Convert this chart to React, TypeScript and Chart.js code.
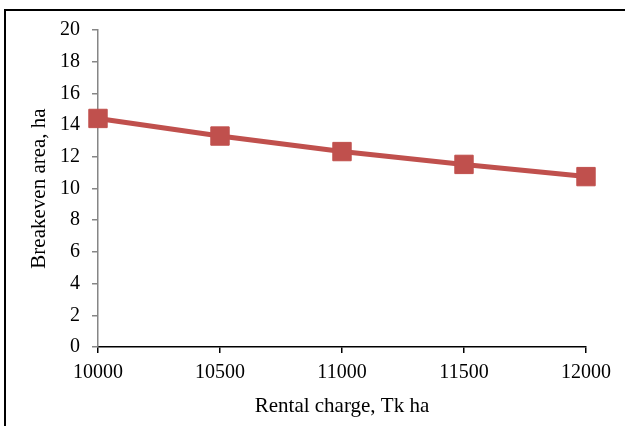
import React, { useEffect, useRef } from "react";
import { Chart, registerables } from "chart.js";

Chart.register(...registerables);

const rentalCharges: number[] = [10000, 10500, 11000, 11500, 12000];
const breakevenArea: number[] = [14.42, 13.31, 12.33, 11.52, 10.75];
const xTitle = "Rental charge, Tk ha";
const yTitle = "Breakeven area, ha";

const FONT = "'Liberation Serif', 'Times New Roman', serif";

export default function App() {
  const canvasRef = useRef<HTMLCanvasElement | null>(null);

  useEffect(() => {
    if (!canvasRef.current) return;
    const chart = new Chart(canvasRef.current, {
      type: "line",
      data: {
        datasets: [
          {
            data: rentalCharges.map((x, i) => ({ x, y: breakevenArea[i] })),
            borderColor: "#C0504D",
            backgroundColor: "#C0504D",
            borderWidth: 5,
            pointStyle: "rect",
            pointRadius: 13,
            pointBackgroundColor: "#C0504D",
            pointBorderColor: "#C0504D",
            pointBorderWidth: 1,
            tension: 0,
            clip: false as any,
          },
        ],
      },
      options: {
        animation: false,
        responsive: false,
        maintainAspectRatio: false,
        layout: { padding: { left: 23, right: 39, top: 30, bottom: 3 } },
        plugins: { legend: { display: false }, tooltip: { enabled: false } },
        scales: {
          x: {
            type: "linear",
            min: 10000,
            max: 12000,
            ticks: {
              stepSize: 500,
              callback: (v: any) => String(v),
              font: { family: FONT, size: 20 },
              color: "#000",
              padding: 8,
            },
            grid: {
              display: true,
              drawOnChartArea: false,
              drawTicks: true,
              tickLength: 6,
              color: "#000",
              lineWidth: 1.5,
            },
            border: { display: true, color: "#000", width: 1.5 },
            title: {
              display: true,
              text: xTitle,
              font: { family: FONT, size: 21 },
              color: "#000",
            },
            afterFit: (s: any) => {
              s.height = 76;
            },
          },
          y: {
            type: "linear",
            min: 0,
            max: 20,
            ticks: {
              stepSize: 2,
              font: { family: FONT, size: 20 },
              color: "#000",
              padding: 12,
            },
            grid: {
              display: true,
              drawOnChartArea: false,
              drawTicks: true,
              tickLength: 6,
              color: "#868686",
              lineWidth: 1.5,
            },
            border: { display: true, color: "#868686", width: 1.5 },
            title: {
              display: true,
              text: yTitle,
              font: { family: FONT, size: 21 },
              color: "#000",
            },
            afterFit: (s: any) => {
              s.width = 75;
            },
          },
        },
      },
    });
    return () => chart.destroy();
  }, []);

  return (
    <div
      style={{
        position: "fixed",
        left: 0,
        top: 0,
        width: 625,
        height: 426,
        background: "#fff",
        overflow: "hidden",
      }}
    >
      <div
        style={{
          position: "absolute",
          left: 4,
          top: 9,
          width: 700,
          height: 500,
          borderLeft: "2px solid #000",
          borderTop: "2px solid #000",
        }}
      />
      <canvas
        ref={canvasRef}
        width={625}
        height={426}
        style={{ position: "absolute", left: 0, top: 0, width: 625, height: 426 }}
      />
    </div>
  );
}
